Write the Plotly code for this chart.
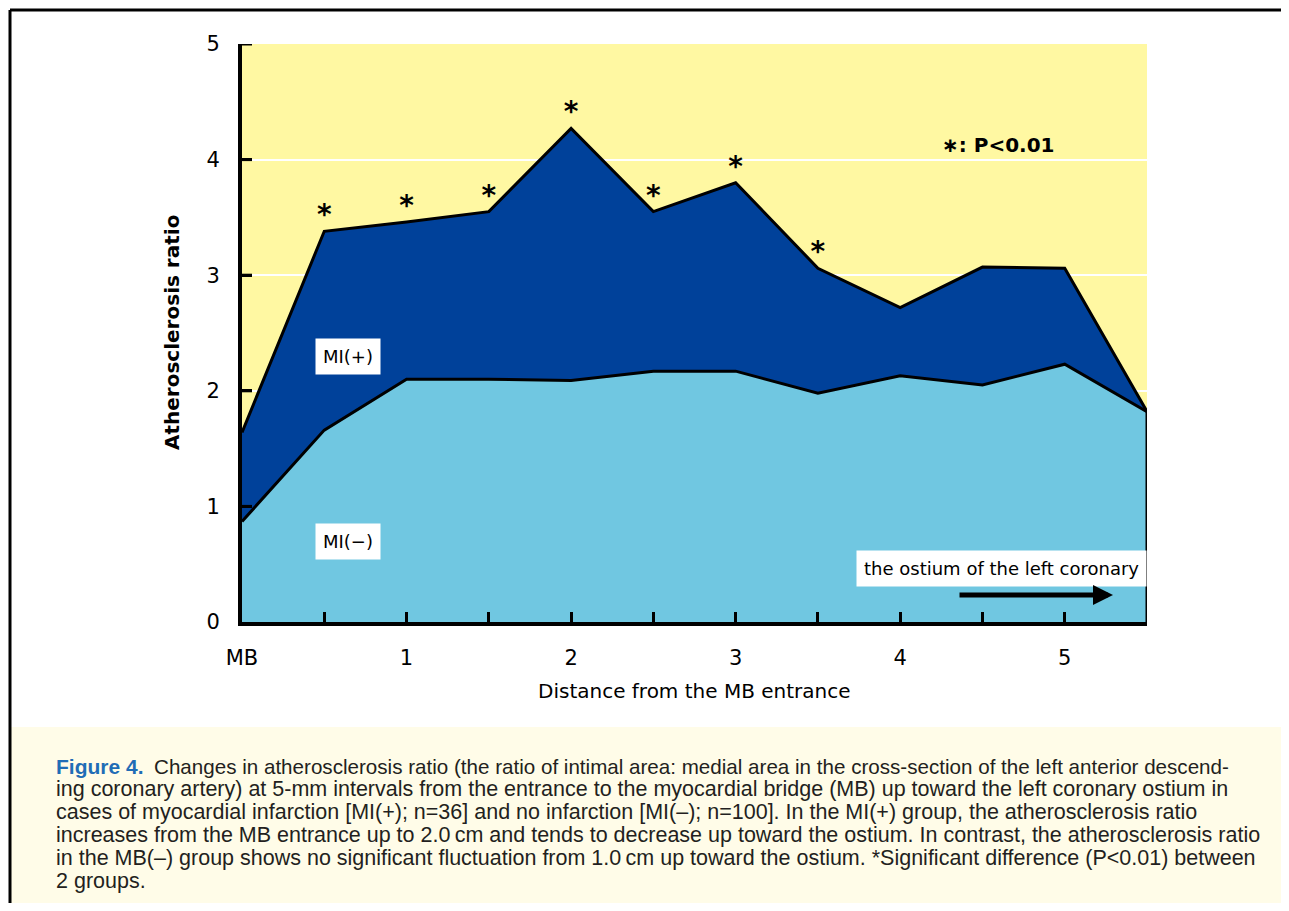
import plotly.graph_objects as go

# ---------------- data ----------------
distance = [0, 0.5, 1, 1.5, 2, 2.5, 3, 3.5, 4, 4.5, 5, 5.5]
mi_plus = [1.64, 3.38, 3.46, 3.55, 4.27, 3.55, 3.80, 3.06, 2.72, 3.07, 3.06, 1.82]
mi_minus = [0.87, 1.66, 2.10, 2.10, 2.09, 2.17, 2.17, 1.98, 2.13, 2.05, 2.23, 1.82]
significant = [False, True, True, True, True, True, True, True, False, False, False, False]
tick_vals = [0, 0.5, 1, 1.5, 2, 2.5, 3, 3.5, 4, 4.5, 5]
tick_text = ["MB", "", "1", "", "2", "", "3", "", "4", "", "5"]
y_ticks = [0, 1, 2, 3, 4, 5]

caption_lines = [
    "ing coronary artery) at 5-mm intervals from the entrance to the myocardial bridge (MB) up toward the left coronary ostium in",
    "cases of myocardial infarction [MI(+); n=36] and no infarction [MI(–); n=100]. In the MI(+) group, the atherosclerosis ratio",
    "increases from the MB entrance up to 2.0\u2009cm and tends to decrease up toward the ostium. In contrast, the atherosclerosis ratio",
    "in the MB(–) group shows no significant fluctuation from 1.0\u2009cm up toward the ostium. *Significant difference (P<0.01) between",
    "2 groups.",
]
caption_first = "Changes in atherosclerosis ratio (the ratio of intimal area: medial area in the cross-section of the left anterior descend-"

YELLOW = "#FFF8A2"
DARK = "#00419A"
LIGHT = "#70C7E1"
CHART_FONT = "DejaVu Sans"
CAP_FONT = "Liberation Sans Narrow, Liberation Sans, Arial"

PAGE_OFF = 8                    # default body margin of the html page
W, H = 1289 - 2 * PAGE_OFF, 911 - 2 * PAGE_OFF
# plot area in page pixels
L, R, T, B = 242, 1147, 44, 622


def xp(px):  # page pixel -> paper x
    return (px - L) / (R - L)


def yp(py):  # page pixel -> paper y
    return (B - py) / (B - T)


fig = go.Figure()
fig.add_trace(go.Scatter(
    x=distance, y=mi_plus, mode="lines", fill="tozeroy",
    fillcolor=DARK, line=dict(color="black", width=3), hoverinfo="skip"))
fig.add_trace(go.Scatter(
    x=distance, y=mi_minus, mode="lines", fill="tozeroy",
    fillcolor=LIGHT, line=dict(color="black", width=3), hoverinfo="skip"))

sx = [d for d, s in zip(distance, significant) if s]
sy = [v for v, s in zip(mi_plus, significant) if s]
fig.add_trace(go.Scatter(
    x=sx, y=sy, mode="text", text=["<b>*</b>"] * len(sx), textposition="top center",
    textfont=dict(family=CHART_FONT, size=28, color="black"), hoverinfo="skip"))

label_font = dict(family=CHART_FONT, size=18, color="black")
annotations = [
    dict(x=xp(348), y=yp(356), xref="paper", yref="paper", xanchor="center", yanchor="middle",
         text="MI(+)", showarrow=False, font=label_font, bgcolor="white", borderpad=7),
    dict(x=xp(348), y=yp(541), xref="paper", yref="paper", xanchor="center", yanchor="middle",
         text="MI(\u2212)", showarrow=False, font=label_font, bgcolor="white", borderpad=7),
    dict(x=xp(1147), y=yp(568), xref="paper", yref="paper", xanchor="right", yanchor="middle",
         text="the ostium of the left coronary", showarrow=False,
         font=label_font, bgcolor="white", borderpad=7),
    dict(x=xp(1113), y=yp(595), xref="paper", yref="paper", ax=-(1113 - 958), ay=0,
         axref="pixel", ayref="pixel", text="", showarrow=True, arrowhead=2, arrowsize=0.8,
         arrowwidth=5, arrowcolor="black"),
    dict(x=xp(940), y=yp(145), xref="paper", yref="paper", xanchor="left", yanchor="middle",
         text="<b>\u2217: P<0.01</b>", showarrow=False,
         font=dict(family=CHART_FONT, size=20, color="black")),
    # axis titles
    dict(x=xp(172), y=yp(333), xref="paper", yref="paper", xanchor="center", yanchor="middle",
         text="<b>Atherosclerosis ratio</b>",
         textangle=-90, showarrow=False, font=dict(family=CHART_FONT, size=20, color="black")),
    dict(x=xp(694), y=yp(691), xref="paper", yref="paper", xanchor="center", yanchor="middle",
         text="Distance from the MB entrance",
         showarrow=False, font=dict(family=CHART_FONT, size=20, color="black")),
    # caption
    dict(x=xp(54), y=yp(766), xref="paper", yref="paper", xanchor="left", yanchor="middle",
         text="<b><span style='color:#1F6DB6'>Figure 4.</span></b>\u2002"
              "<span style='font-size:20.6px'>" + caption_first + "</span>",
         showarrow=False, font=dict(family=CAP_FONT, size=21, color="#231F20")),
]
for i, line in enumerate(caption_lines):
    annotations.append(dict(
        x=xp(54), y=yp(789 + 23 * i), xref="paper", yref="paper", xanchor="left",
        yanchor="middle", text=line, showarrow=False,
        font=dict(family=CAP_FONT, size=21.5, color="#231F20")))

shapes = [
    # caption background
    dict(type="rect", xref="paper", yref="paper", x0=xp(11), x1=xp(1289), y0=yp(911), y1=yp(727),
         fillcolor="#FFFCE8", line=dict(width=0), layer="below"),
    # outer frame (top and left)
    dict(type="line", xref="paper", yref="paper", x0=xp(10), x1=xp(1289), y0=yp(10), y1=yp(10),
         line=dict(color="black", width=3)),
    dict(type="line", xref="paper", yref="paper", x0=xp(10), x1=xp(10), y0=yp(911), y1=yp(10),
         line=dict(color="black", width=3)),
    # right edge of the area
    dict(type="line", xref="x", yref="y", x0=5.5, x1=5.5, y0=0, y1=mi_minus[-1],
         line=dict(color="black", width=3)),
]
# inward y tick marks
for v in y_ticks[1:]:
    shapes.append(dict(type="line", xref="x domain", yref="y", x0=0, x1=10 / (R - L),
                       y0=v, y1=v, line=dict(color="black", width=3)))

fig.update_layout(
    width=W, height=H,
    margin=dict(l=L - PAGE_OFF, r=W - (R - PAGE_OFF), t=T - PAGE_OFF, b=H - (B - PAGE_OFF), pad=0),
    paper_bgcolor="white", plot_bgcolor=YELLOW,
    showlegend=False,
    annotations=annotations, shapes=shapes,
    xaxis=dict(range=[0, 5.5], tickvals=tick_vals, ticktext=tick_text, ticks="inside",
               ticklen=10, tickwidth=3, tickcolor="black", showline=True, linecolor="black",
               linewidth=4, showgrid=False, zeroline=False, ticklabelstandoff=14,
               layer="above traces",
               tickfont=dict(family=CHART_FONT, size=21, color="black")),
    yaxis=dict(range=[0, 5], tickvals=y_ticks, ticks="inside", ticklen=10, tickwidth=3,
               tickcolor="black", showline=True, linecolor="black", linewidth=4,
               showgrid=True, gridcolor="white", gridwidth=2, zeroline=False,
               ticklabelstandoff=14, layer="above traces",
               tickfont=dict(family=CHART_FONT, size=21, color="black")),
)

fig.write_html("out.html")
